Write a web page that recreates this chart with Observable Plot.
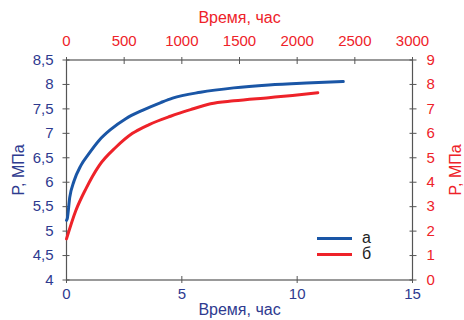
<!DOCTYPE html>
<html><head><meta charset="utf-8">
<script src="https://cdn.jsdelivr.net/npm/d3@7"></script>
<script src="https://cdn.jsdelivr.net/npm/@observablehq/plot@0.6"></script>
<style>
body{margin:0;background:#fff}
#c{position:relative;width:464px;height:320px;font-family:"Liberation Sans",Arial,sans-serif}
.lg{position:absolute;display:flex;align-items:center;font-size:16px;color:#222}
.lg span.sw{display:inline-block;width:35px;height:3px;margin-right:10px}
</style>
</head><body><div id="c"></div>
<script>
// Series а: bottom (hours) / left (MPa) axes
const timeA = [0, 0.03, 0.14, 0.33, 0.62, 0.98, 1.42, 1.92, 2.57, 3.29, 4.09, 4.6, 5.81, 7.25, 8.77, 10.4, 12.0];
const pressA = [5.22, 5.25, 5.69, 6.03, 6.34, 6.59, 6.86, 7.08, 7.30, 7.47, 7.63, 7.72, 7.84, 7.93, 7.99, 8.03, 8.06];
// Series б: top (hours) / right (MPa) axes
const timeB = [0, 81, 168, 283, 428, 572, 717, 902, 1075, 1249, 1451, 1754, 1960, 2179];
const pressB = [1.68, 2.84, 3.73, 4.68, 5.43, 6.00, 6.36, 6.70, 6.97, 7.21, 7.33, 7.46, 7.55, 7.66];

const bottomTicks = [0, 5, 10, 15];
const topTicks = [0, 500, 1000, 1500, 2000, 2500, 3000];
const leftTicks = [4, 4.5, 5, 5.5, 6, 6.5, 7, 7.5, 8, 8.5];
const rightTicks = [0, 1, 2, 3, 4, 5, 6, 7, 8, 9];
const seriesNames = ["а", "б"];
const axisTitleX = "Время, час";
const axisTitleY = "P, МПа";

const BLUE = "#1a56a6", NAVY = "#2e3a8f", RED = "#ee2229", GRID = "#555";
// secondary axes mapped onto primary scales
const topToX = h => h / 200;
const rightToY = p => 4 + p / 2;
const fmt = d => String(d).replace(".", ",");

const dataA = timeA.map((t, i) => ({x: t, y: pressA[i]}));
const dataB = timeB.map((t, i) => ({x: topToX(t), y: rightToY(pressB[i])}));

const chart = Plot.plot({
  width: 464, height: 320,
  marginLeft: 66, marginRight: 52, marginTop: 59.5, marginBottom: 40.5,
  style: {fontFamily: '"Liberation Sans", Arial, sans-serif', fontSize: "15px", background: "#fff"},
  x: {domain: [0, 15]},
  y: {domain: [4, 8.5]},
  marks: [
    Plot.frame({stroke: GRID, strokeWidth: 1.2}),
    // tick marks crossing the frame
    Plot.axisX({anchor: "bottom", ticks: bottomTicks, tickSize: 7, dy: -3.5, tickFormat: () => "", stroke: GRID, label: null}),
    Plot.axisX({anchor: "top", ticks: topTicks.map(topToX), tickSize: 7, dy: 3.5, tickFormat: () => "", stroke: GRID, label: null}),
    Plot.axisY({anchor: "left", ticks: leftTicks, tickSize: 7, dx: 3.5, tickFormat: () => "", stroke: GRID, label: null}),
    Plot.axisY({anchor: "right", ticks: rightTicks.map(rightToY), tickSize: 7, dx: -3.5, tickFormat: () => "", stroke: GRID, label: null}),
    // tick labels
    Plot.axisX({anchor: "bottom", ticks: bottomTicks, tickSize: 0, tickPadding: 8, fill: NAVY, fontSize: 15, label: null}),
    Plot.axisX({anchor: "top", ticks: topTicks.map(topToX), tickSize: 0, tickPadding: 14, fill: RED, fontSize: 15,
      tickFormat: d => String(Math.round(d * 200)), label: null}),
    Plot.axisY({anchor: "left", ticks: leftTicks, tickSize: 0, tickPadding: 13, fill: NAVY, fontSize: 15, tickFormat: fmt, label: null}),
    Plot.axisY({anchor: "right", ticks: rightTicks.map(rightToY), tickSize: 0, tickPadding: 14, fill: RED, fontSize: 15,
      tickFormat: d => String(Math.round((d - 4) * 2)), label: null}),
    // axis titles
    Plot.axisX({anchor: "bottom", ticks: [], fill: NAVY, fontSize: 16,
      label: axisTitleX, labelAnchor: "center", labelArrow: "none", labelOffset: 35}),
    Plot.axisX({anchor: "top", ticks: [], fill: RED, fontSize: 16,
      label: axisTitleX, labelAnchor: "center", labelArrow: "none", labelOffset: 48}),
    Plot.axisY({anchor: "left", ticks: [], fill: NAVY, fontSize: 16,
      label: axisTitleY, labelAnchor: "center", labelArrow: "none", labelOffset: 54}),
    Plot.axisY({anchor: "right", ticks: [], fill: RED, fontSize: 16,
      label: axisTitleY, labelAnchor: "center", labelArrow: "none", labelOffset: 48}),
    Plot.line(dataA, {x: "x", y: "y", stroke: BLUE, strokeWidth: 3, curve: "monotone-x"}),
    Plot.line(dataB, {x: "x", y: "y", stroke: RED, strokeWidth: 3, curve: "monotone-x"})
  ]
});
const c = document.getElementById("c");
c.appendChild(chart);
[[seriesNames[0], BLUE, 229], [seriesNames[1], RED, 245]].forEach(([n, col, top]) => {
  const d = document.createElement("div");
  d.className = "lg";
  d.style.left = "317px"; d.style.top = top + "px"; d.style.height = "18px";
  d.innerHTML = `<span class="sw" style="background:${col}"></span><span>${n}</span>`;
  c.appendChild(d);
});
</script>
</body></html>
